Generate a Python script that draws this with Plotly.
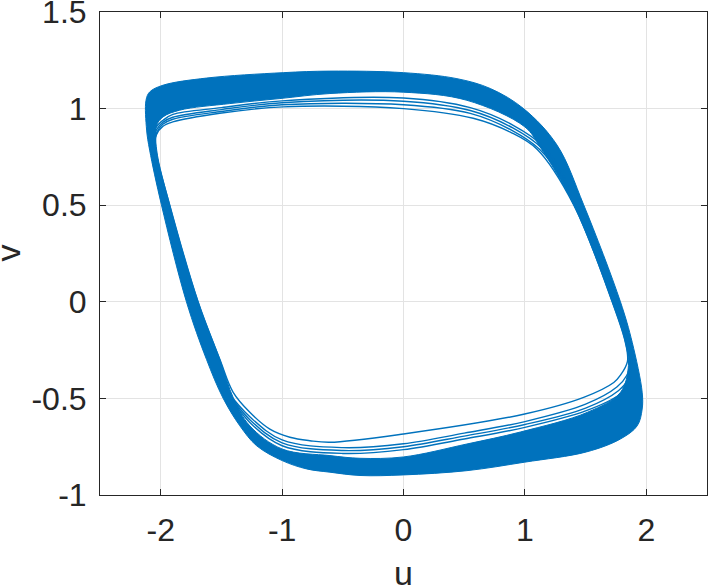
import plotly.graph_objects as go

# ---- data (u, v) ----
# outer edge of the dense band
outer_u = [-1.788, -1.994, -2.091, -2.116, -2.121, -2.091, -1.981, -1.623, -0.991, -0.606,
           0.000, 0.440, 0.715, 0.989, 1.265, 1.484, 1.787, 1.884, 1.966, 1.966,
           1.925, 1.787, 1.507, 0.998, 0.522, 0.000, -0.358, -0.606, -0.798, -0.999,
           -1.210, -1.348, -1.486, -1.623, -1.788]
outer_v = [0.000, 0.502, 0.785, 0.889, 1.043, 1.086, 1.121, 1.158, 1.186, 1.194,
           1.186, 1.155, 1.104, 1.000, 0.811, 0.502, 0.000, -0.210, -0.468, -0.555,
           -0.642, -0.710, -0.777, -0.830, -0.874, -0.896, -0.899, -0.882, -0.865, -0.822,
           -0.745, -0.642, -0.499, -0.298, 0.000]

# inner edge of the dense band
inner_u = [-1.692, -1.926, -2.033, -2.036, -1.981, -1.843, -1.431, -1.018, -0.606, 0.000,
           0.522, 0.998, 1.127, 1.402, 1.719, 1.828, 1.853, 1.787, 1.515, 0.962,
           0.522, 0.000, -0.358, -0.606, -0.999, -1.266, -1.400, -1.513, -1.692]
inner_v = [0.000, 0.502, 0.785, 0.910, 0.957, 0.992, 1.026, 1.052, 1.078, 1.085,
           1.043, 0.906, 0.800, 0.502, 0.000, -0.211, -0.330, -0.469, -0.572, -0.674,
           -0.736, -0.803, -0.810, -0.796, -0.762, -0.642, -0.500, -0.298, 0.000]

# innermost (transient) loop
l1_u = [-1.692, -1.926, -2.040, -2.036, -1.981, -1.901, -1.513, -0.991, 0.000, 0.574,
        0.880, 1.100, 1.402, 1.719, 1.828, 1.845, 1.787, 1.732, 1.484, 0.998,
        0.000, -0.606, -0.771, -0.936, -1.101, -1.266, -1.403, -1.513, -1.692]
l1_v = [0.000, 0.502, 0.785, 0.863, 0.909, 0.931, 0.976, 1.009, 1.000, 0.950,
        0.878, 0.790, 0.502, 0.000, -0.211, -0.308, -0.380, -0.418, -0.495, -0.581,
        -0.684, -0.727, -0.719, -0.701, -0.659, -0.572, -0.469, -0.298, 0.000]

# thin transient arcs on top
top2_u = [-2.06, -2.03, -1.98, -1.90, -1.50, -1.00, 0.00, 0.55, 0.90, 1.12, 1.36]
top2_v = [0.80, 0.880, 0.920, 0.945, 0.985, 1.020, 1.020, 0.975, 0.885, 0.790, 0.60]
top3_u = [-2.06, -2.035, -1.98, -1.90, -1.50, -1.00, 0.00, 0.55, 0.90, 1.14, 1.36]
top3_v = [0.80, 0.890, 0.930, 0.955, 0.995, 1.030, 1.038, 0.990, 0.900, 0.795, 0.60]
top4_u = [-2.06, -2.04, -1.98, -1.90, -1.50, -1.00, 0.00, 0.55, 0.90, 1.16, 1.36]
top4_v = [0.80, 0.900, 0.940, 0.970, 1.005, 1.040, 1.055, 1.005, 0.915, 0.800, 0.60]

# thin transient arcs on the bottom
bot2_u = [1.88, 1.84, 1.76, 1.50, 1.00, 0.50, 0.00, -0.50, -1.00, -1.266, -1.47]
bot2_v = [-0.30, -0.38, -0.44, -0.530, -0.620, -0.680, -0.735, -0.755, -0.715, -0.595, -0.45]
bot3_u = [1.88, 1.85, 1.77, 1.50, 1.00, 0.50, 0.00, -0.50, -1.00, -1.266, -1.47]
bot3_v = [-0.30, -0.40, -0.46, -0.550, -0.635, -0.695, -0.750, -0.770, -0.730, -0.610, -0.45]
bot4_u = [1.88, 1.855, 1.78, 1.50, 1.00, 0.50, 0.00, -0.50, -1.00, -1.266, -1.47]
bot4_v = [-0.30, -0.42, -0.48, -0.565, -0.650, -0.710, -0.765, -0.785, -0.745, -0.625, -0.45]

x_ticks = [-2, -1, 0, 1, 2]
x_labels = ["-2", "-1", "0", "1", "2"]
y_ticks = [-1, -0.5, 0, 0.5, 1, 1.5]
y_labels = ["-1", "-0.5", "0", "0.5", "1", "1.5"]
x_title = "u"
y_title = "v"

BLUE = "#0072BD"
INK = "#262626"
FONT = "Liberation Sans, Arial, Helvetica, sans-serif"

fig = go.Figure()

# dense band (outer edge with the inner edge as a hole)
band_u = outer_u + [None] + inner_u[::-1]
band_v = outer_v + [None] + inner_v[::-1]
fig.add_trace(go.Scatter(x=band_u, y=band_v, mode="lines", fill="toself",
                         fillcolor=BLUE, line=dict(color=BLUE, width=1, shape="spline", smoothing=1.0),
                         hoverinfo="skip", showlegend=False))

thin_u = l1_u + [None] + top2_u + [None] + top3_u + [None] + top4_u + [None] + bot2_u + [None] + bot3_u + [None] + bot4_u
thin_v = l1_v + [None] + top2_v + [None] + top3_v + [None] + top4_v + [None] + bot2_v + [None] + bot3_v + [None] + bot4_v
fig.add_trace(go.Scatter(x=thin_u, y=thin_v, mode="lines",
                         line=dict(color=BLUE, width=1.4, shape="spline", smoothing=1.0),
                         connectgaps=False, hoverinfo="skip", showlegend=False))

axis_common = dict(
    showline=True, linecolor=INK, linewidth=1, mirror="ticks",
    ticks="inside", ticklen=6, tickcolor=INK, tickwidth=1,
    showgrid=True, gridcolor="#E3E3E3", gridwidth=1,
    zeroline=False, automargin=False, ticklabeloverflow="allow",
    tickfont=dict(family=FONT, size=32, color=INK),
)

fig.update_layout(
    width=708, height=587,
    margin=dict(l=100, r=1, t=12, b=92),
    paper_bgcolor="white", plot_bgcolor="white",
    font=dict(family=FONT, color=INK),
    xaxis=dict(range=[-2.5, 2.5], tickvals=x_ticks, ticktext=x_labels,
               ticklabelstandoff=7, **axis_common),
    yaxis=dict(range=[-1, 1.5], tickvals=y_ticks, ticktext=y_labels,
               ticklabelstandoff=6, **axis_common),
    annotations=[
        dict(text=x_title, xref="paper", yref="paper", x=0.5, y=0,
             xanchor="center", yanchor="middle", yshift=-78, showarrow=False,
             font=dict(family=FONT, size=34, color=INK)),
        dict(text=y_title, xref="paper", yref="paper", x=0, y=0.5,
             xanchor="center", yanchor="middle", xshift=-93, textangle=-90, showarrow=False,
             font=dict(family=FONT, size=34, color=INK)),
    ],
)

fig.write_html("out.html", config={"displayModeBar": False},
               post_script="document.body.style.margin='0';")
